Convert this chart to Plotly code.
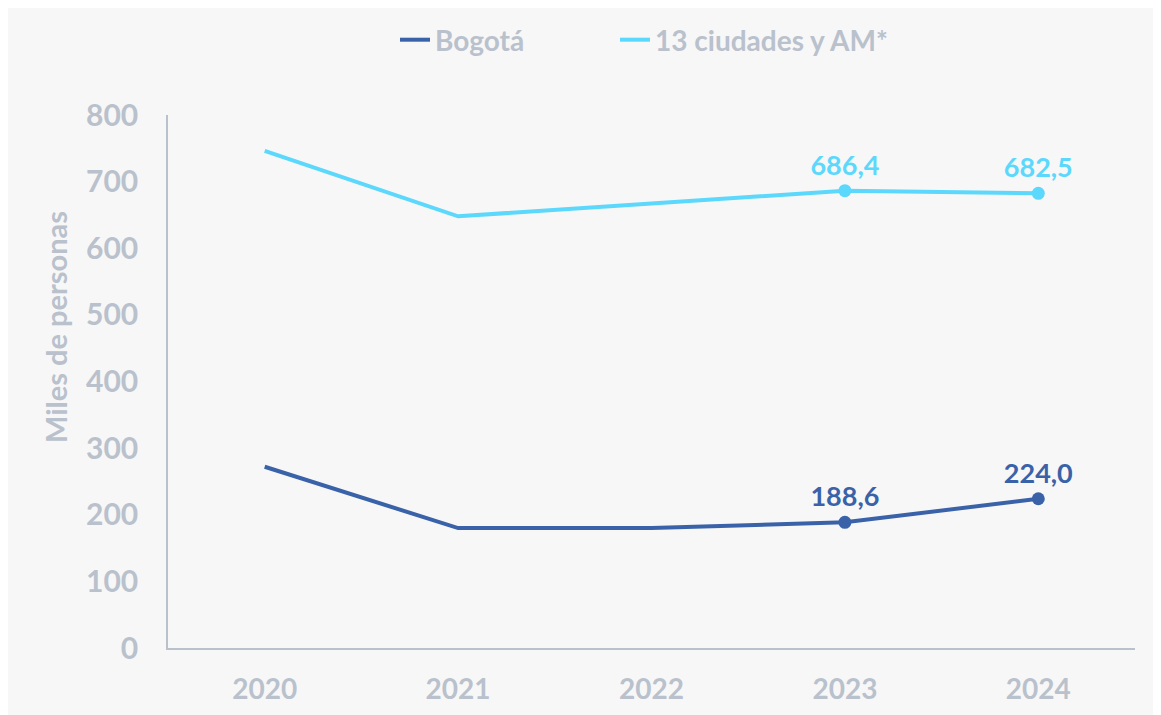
import plotly.graph_objects as go

years = ["2020", "2021", "2022", "2023", "2024"]
bogota = [272, 180, 180, 188.6, 224.0]
ciudades = [746, 648, 667, 686.4, 682.5]
label_years = ["2023", "2024"]
bogota_lab_vals = [188.6, 224.0]
ciudades_lab_vals = [686.4, 682.5]
bogota_labels = ["188,6", "224,0"]
ciudades_labels = ["686,4", "682,5"]
y_title = "Miles de personas"

FONT = "Lato"
GREY = "#b9c1cc"
DARK = "#3a62a8"
CYAN = "#5bd8fc"

fig = go.Figure()
fig.add_trace(go.Scatter(x=years, y=bogota, name="Bogotá", mode="lines",
                         line=dict(color=DARK, width=4), legend="legend"))
fig.add_trace(go.Scatter(x=years, y=ciudades, name="13 ciudades y AM*", mode="lines",
                         line=dict(color=CYAN, width=4), legend="legend2"))
fig.add_trace(go.Scatter(
    x=label_years, y=bogota_lab_vals, mode="markers+text", showlegend=False,
    marker=dict(size=13, color=DARK), text=bogota_labels, textposition="top center",
    textfont=dict(family=FONT, size=27, color=DARK, weight="bold")))
fig.add_trace(go.Scatter(
    x=label_years, y=ciudades_lab_vals, mode="markers+text", showlegend=False,
    marker=dict(size=13, color=CYAN), text=ciudades_labels, textposition="top center",
    textfont=dict(family=FONT, size=27, color=CYAN, weight="bold")))

legend_common = dict(orientation="h", xref="container", yref="container",
                     xanchor="left", y=1 - 32 / 715, yanchor="middle",
                     font=dict(family=FONT, size=28, color=GREY, weight="bold"),
                     bgcolor="rgba(0,0,0,0)")

fig.update_layout(
    width=1161, height=715,
    paper_bgcolor="#f7f7f7", plot_bgcolor="#f7f7f7",
    margin=dict(l=160, r=34, t=107, b=75, autoexpand=False),
    font=dict(family=FONT, color=GREY),
    showlegend=True,
    legend=dict(x=387 / 1161, **legend_common),
    legend2=dict(x=607 / 1161, **legend_common),
    xaxis=dict(type="category", range=[-0.5, 4.5], showgrid=False, showline=True,
               linecolor=GREY, linewidth=1.5, ticks="", zeroline=False, automargin=False,
               tickfont=dict(family=FONT, size=28, color=GREY, weight="bold"), ticklabelstandoff=16),
    yaxis=dict(range=[0, 800], dtick=100, showgrid=False, showline=True, automargin=False,
               linecolor=GREY, linewidth=1.5, ticks="", zeroline=False,
               tickfont=dict(family=FONT, size=30, color=GREY, weight="bold"), ticklabelstandoff=22),
    annotations=[dict(text=y_title, xref="paper", yref="paper", x=-0.117, y=0.602,
                      xanchor="center", yanchor="middle", textangle=-90, showarrow=False,
                      font=dict(family=FONT, size=29, color=GREY, weight="bold"))],
)
fig.write_html("out.html")
